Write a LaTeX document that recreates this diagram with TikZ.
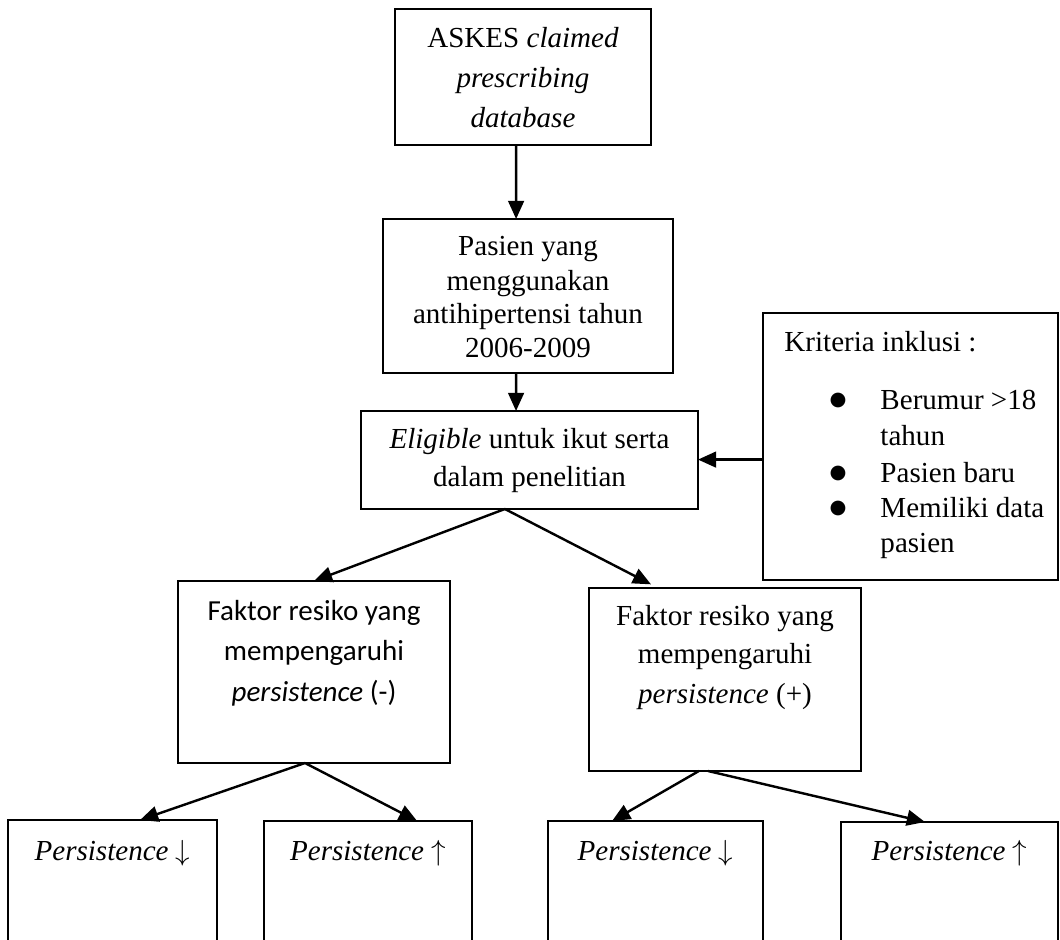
\documentclass[tikz,border=0pt]{standalone}
\usepackage{fontspec}
\setmainfont{Liberation Serif}
\newfontfamily\calibri{Carlito}
\newfontfamily\dejavu{DejaVu Sans}
\usetikzlibrary{arrows.meta,calc}
\begin{document}
\begin{tikzpicture}[x=0.4132pt,y=-0.4132pt,
  box/.style={draw,line width=0.95pt,inner sep=0pt,outer sep=0pt},
  txt/.style={inner sep=0pt,anchor=base,font=\fontsize{12}{14}\selectfont},
  ctxt/.style={inner sep=0pt,anchor=base,font=\fontsize{12}{14}\selectfont\calibri},
  ltxt/.style={inner sep=0pt,anchor=base west,font=\fontsize{12}{14}\selectfont},
  bul/.style={inner sep=0pt,anchor=base,font=\fontsize{8}{8}\selectfont\dejavu},
  arr/.style={line width=1pt,-{Triangle[length=7.5pt,width=6.5pt]}}]
\useasboundingbox (0,0) rectangle (1060,940);
\clip (0,0) rectangle (1060,940);

% boxes
\node[box,minimum width=256*0.4132pt,minimum height=136*0.4132pt] (b1) at (523,77) {};
\node[box,minimum width=290*0.4132pt,minimum height=154*0.4132pt] (b2) at (528,296) {};
\node[box,minimum width=337*0.4132pt,minimum height=98*0.4132pt] (b3) at (529.5,460) {};
\node[box,minimum width=295*0.4132pt,minimum height=267*0.4132pt] (crit) at (910.5,446.5) {};
\node[box,minimum width=272*0.4132pt,minimum height=182*0.4132pt] (f1) at (314,672) {};
\node[box,minimum width=272*0.4132pt,minimum height=183*0.4132pt] (f2) at (725,679.5) {};
\node[box,minimum width=209*0.4132pt,minimum height=140*0.4132pt] (p1) at (112.5,890) {};
\node[box,minimum width=208*0.4132pt,minimum height=140*0.4132pt] (p2) at (368,891) {};
\node[box,minimum width=215*0.4132pt,minimum height=140*0.4132pt] (p3) at (655.5,891) {};
\node[box,minimum width=217*0.4132pt,minimum height=140*0.4132pt] (p4) at (949.5,892) {};

% texts
\node[txt] (t1a) at (523,47) {ASKES \textit{claimed}};
\node[txt] (t1b) at (523,87) {\textit{prescribing}};
\node[txt] (t1c) at (523,127) {\textit{database}};

\node[txt] (t2a) at (528,255) {Pasien yang};
\node[txt] (t2b) at (528,290) {menggunakan};
\node[txt] (t2c) at (528,323) {antihipertensi tahun};
\node[txt] (t2d) at (528,357) {2006-2009};

\node[txt] (t3a) at (529.5,448) {\textit{Eligible} untuk ikut serta};
\node[txt] (t3b) at (529.5,486) {dalam penelitian};

\node[ltxt] (k0) at (784,351) {Kriteria inklusi :};
\node[bul] (kb1) at (838,405) {●};
\node[ltxt] (k1a) at (880,409) {Berumur >18};
\node[ltxt] (k1b) at (880,445) {tahun};
\node[bul] (kb2) at (838,478) {●};
\node[ltxt] (k2) at (880,482) {Pasien baru};
\node[bul] (kb3) at (838,513) {●};
\node[ltxt] (k3a) at (880,517) {Memiliki data};
\node[ltxt] (k3b) at (880,552) {pasien};

\node[ctxt] (f1a) at (314,620) {Faktor resiko yang};
\node[ctxt] (f1b) at (314,660) {mempengaruhi};
\node[ctxt] (f1c) at (314,701) {\textit{persistence} (-)};

\node[txt] (f2a) at (725,625) {Faktor resiko yang};
\node[txt] (f2b) at (725,663) {mempengaruhi};
\node[txt] (f2c) at (725,703) {\textit{persistence} (+)};

\node[txt] (q1) at (112.5,860) {\textit{Persistence} $\downarrow$};
\node[txt] (q2) at (368,860) {\textit{Persistence} $\uparrow$};
\node[txt] (q3) at (655.5,860) {\textit{Persistence} $\downarrow$};
\node[txt] (q4) at (949.5,860) {\textit{Persistence} $\uparrow$};

% connectors
\draw[arr] ($(b1.south west)!0.473!(b1.south east)$) -- ($(b2.north west)!0.459!(b2.north east)$);
\draw[arr] ($(b2.south west)!0.459!(b2.south east)$) -- ($(b3.north west)!0.46!(b3.north east)$);
\coordinate (c3) at ($(crit.north west)!0.549!(crit.south west)$);
\draw[arr] (c3) -- (c3 -| b3.east);
\coordinate (s3) at ($(b3.south west)!0.427!(b3.south east)$);
\draw[arr] (s3) -- (f1.north);
\draw[arr,shorten >=3.3pt] (s3) -- ($(f2.north west)!0.254!(f2.north east)$);
\coordinate (s4) at ($(f1.south west)!0.467!(f1.south east)$);
\draw[arr] (s4) -- ($(p1.north west)!0.632!(p1.north east)$);
\draw[arr] (s4) -- ($(p2.north west)!0.736!(p2.north east)$);
\draw[arr] ($(f2.south west)!0.404!(f2.south east)$) -- ($(p3.north west)!0.298!(p3.north east)$);
\draw[arr] ($(f2.south west)!0.4375!(f2.south east)$) -- ($(p4.north west)!0.387!(p4.north east)$);
\end{tikzpicture}
\end{document}
